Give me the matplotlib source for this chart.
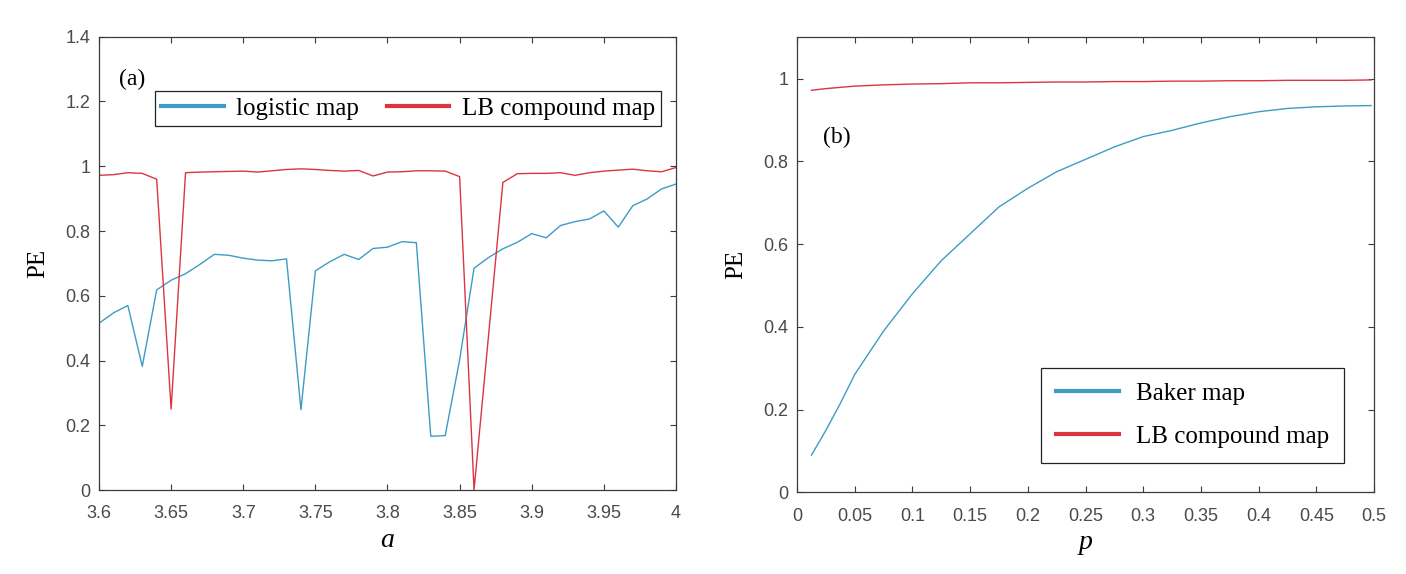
import numpy as np
import matplotlib
matplotlib.use('Agg')
import matplotlib.pyplot as plt
from matplotlib.ticker import FormatStrFormatter

# panel (a): PE versus control parameter a
a_vals = np.linspace(3.6, 4.0, 41)
logistic_pe = [0.515, 0.547, 0.570, 0.382, 0.618, 0.648, 0.668, 0.697, 0.728, 0.725,
               0.716, 0.710, 0.708, 0.714, 0.248, 0.677, 0.705, 0.728, 0.712, 0.746,
               0.750, 0.767, 0.764, 0.166, 0.168, 0.402, 0.685, 0.718, 0.745, 0.765,
               0.792, 0.779, 0.817, 0.829, 0.837, 0.862, 0.812, 0.878, 0.899, 0.930,
               0.945]
lb_pe_a = [0.972, 0.974, 0.980, 0.978, 0.960, 0.250, 0.980, 0.982, 0.983, 0.984,
           0.985, 0.982, 0.986, 0.990, 0.992, 0.990, 0.987, 0.985, 0.987, 0.970,
           0.982, 0.983, 0.986, 0.986, 0.985, 0.968, 0.000, 0.475, 0.950, 0.977,
           0.978, 0.978, 0.980, 0.972, 0.980, 0.985, 0.988, 0.991, 0.986, 0.983,
           0.996]

# panel (b): PE versus p
p_vals = [0.0125, 0.025, 0.0375, 0.05, 0.075, 0.1, 0.125, 0.15, 0.175, 0.2,
          0.225, 0.25, 0.275, 0.3, 0.325, 0.35, 0.375, 0.4, 0.425, 0.45,
          0.475, 0.4975]
baker_pe = [0.090, 0.150, 0.215, 0.285, 0.390, 0.480, 0.560, 0.625, 0.690, 0.735,
            0.775, 0.805, 0.835, 0.860, 0.875, 0.893, 0.908, 0.920, 0.928, 0.932,
            0.934, 0.935]
lb_pe_b = [0.972, 0.976, 0.979, 0.982, 0.985, 0.987, 0.988, 0.990, 0.990, 0.991,
           0.992, 0.992, 0.993, 0.993, 0.994, 0.994, 0.995, 0.995, 0.996, 0.996,
           0.996, 0.997]

a_ticks = [3.6, 3.65, 3.7, 3.75, 3.8, 3.85, 3.9, 3.95, 4.0]
a_yticks = [0, 0.2, 0.4, 0.6, 0.8, 1.0, 1.2, 1.4]
p_ticks = [0, 0.05, 0.1, 0.15, 0.2, 0.25, 0.3, 0.35, 0.4, 0.45, 0.5]
p_yticks = [0, 0.2, 0.4, 0.6, 0.8, 1.0]

BLUE = '#3d9cc6'
RED = '#dc3540'
SERIF = 'Liberation Serif'
SANS = 'Liberation Sans'
GREY = '#4a4a4a'


def style_axes(ax):
    for s in ax.spines.values():
        s.set_color('#3c3c3c')
        s.set_linewidth(0.9)
    ax.tick_params(direction='in', top=True, right=True, length=4, width=0.8,
                   colors='#3c3c3c', labelcolor=GREY, labelsize=13)
    ax.tick_params(axis='x', pad=11)
    ax.tick_params(axis='y', pad=6)
    for lab in ax.get_xticklabels() + ax.get_yticklabels():
        lab.set_fontfamily(SANS)
    ax.xaxis.set_major_formatter(FormatStrFormatter('%g'))
    ax.yaxis.set_major_formatter(FormatStrFormatter('%g'))


fig = plt.figure(figsize=(14.06, 5.74), dpi=100)

ax1 = fig.add_axes([0.0704, 0.1463, 0.4104, 0.7897])
ax1.plot(a_vals, logistic_pe, color=BLUE, lw=1.0, label='logistic map')
ax1.plot(a_vals, lb_pe_a, color=RED, lw=1.0, label='LB compound map')
ax1.set_xlim(3.6, 4.0)
ax1.set_ylim(0, 1.4)
ax1.set_xticks(a_ticks)
ax1.set_yticks(a_yticks)
style_axes(ax1)
ax1.set_xlabel('a', fontfamily=SERIF, fontstyle='italic', fontsize=20, labelpad=4)
ax1.set_ylabel('PE', fontfamily=SERIF, fontsize=18, labelpad=12)
ax1.text(0.034, 0.905, '(a)', transform=ax1.transAxes, fontfamily=SERIF,
         fontsize=17, va='center', ha='left')
leg1 = ax1.legend(loc='upper left', bbox_to_anchor=(0.097, 0.880), ncol=2,
                  prop={'family': SERIF, 'size': 18}, frameon=True, fancybox=False,
                  edgecolor='#222222', framealpha=1, borderaxespad=0,
                  borderpad=0.25, handlelength=2.5, handletextpad=0.5,
                  columnspacing=1.1)
leg1.get_frame().set_linewidth(0.9)
for ln in leg1.get_lines():
    ln.set_linewidth(3)

ax2 = fig.add_axes([0.5669, 0.1423, 0.4103, 0.7927])
ax2.plot(p_vals, baker_pe, color=BLUE, lw=1.0, label='Baker map')
ax2.plot(p_vals, lb_pe_b, color=RED, lw=1.0, label='LB compound map')
ax2.set_xlim(0, 0.5)
ax2.set_ylim(0, 1.1)
ax2.set_xticks(p_ticks)
ax2.set_yticks(p_yticks)
style_axes(ax2)
ax2.set_xlabel('p', fontfamily=SERIF, fontstyle='italic', fontsize=20, labelpad=4)
ax2.set_ylabel('PE', fontfamily=SERIF, fontsize=18, labelpad=12)
ax2.text(0.045, 0.78, '(b)', transform=ax2.transAxes, fontfamily=SERIF,
         fontsize=17, va='center', ha='left')
leg2 = ax2.legend(loc='lower left', bbox_to_anchor=(0.423, 0.0655),
                  prop={'family': SERIF, 'size': 18}, frameon=True, fancybox=False,
                  edgecolor='#222222', framealpha=1, borderaxespad=0,
                  borderpad=0.6, handlelength=2.5, handletextpad=0.7,
                  labelspacing=0.8)
leg2.get_frame().set_linewidth(0.9)
for ln in leg2.get_lines():
    ln.set_linewidth(3)

fig.savefig('out.png', dpi=100)
